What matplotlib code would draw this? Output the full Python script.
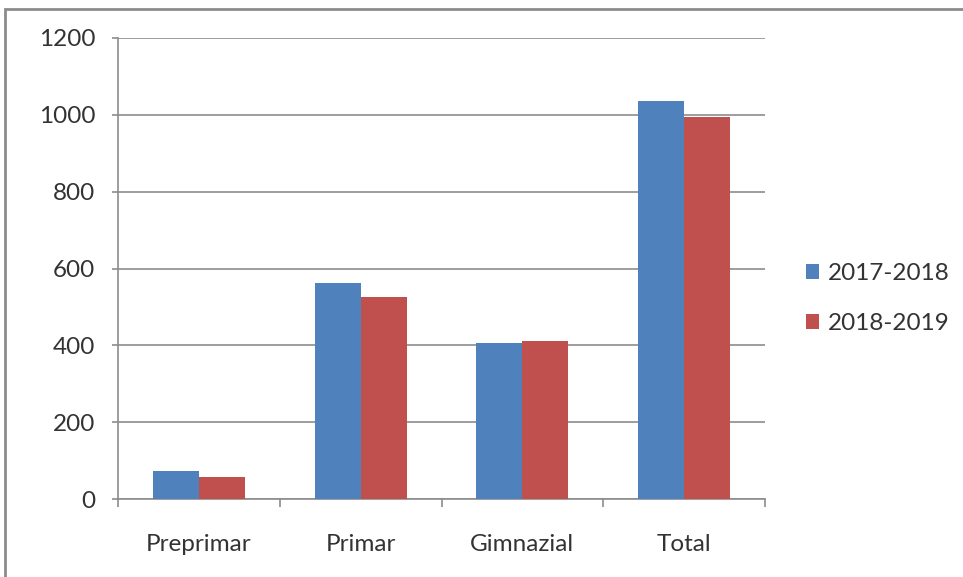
import matplotlib.pyplot as plt
import numpy as np
from matplotlib.patches import Rectangle

categories = ['Preprimar', 'Primar', 'Gimnazial', 'Total']
series_names = ['2017-2018', '2018-2019']
values_2017 = [72, 561, 405, 1037]
values_2018 = [58, 525, 411, 995]
colors = ['#4F81BD', '#C0504D']

plt.rcParams['font.family'] = ['Lato', 'DejaVu Sans']

fig = plt.figure(figsize=(9.63, 5.77), dpi=100)
ax = fig.add_axes([118 / 963, 1 - 499 / 577, (765 - 118) / 963, (499 - 38) / 577])

x = np.arange(len(categories))
w = 0.285
ax.bar(x - w / 2, values_2017, w, color=colors[0], label=series_names[0], zorder=3)
ax.bar(x + w / 2, values_2018, w, color=colors[1], label=series_names[1], zorder=3)

ax.set_xlim(-0.5, len(categories) - 0.5)
ax.set_ylim(0, 1200)
ax.set_yticks(range(0, 1201, 200))
ax.yaxis.grid(True, color='#8c8c8c', linewidth=1.2, zorder=0)

ax.set_xticks(x)
ax.set_xticklabels(categories)
ax.set_xticks(np.arange(-0.5, len(categories), 1), minor=True)
ax.tick_params(axis='x', which='major', length=0, pad=25, labelsize=17.5, labelcolor='#333333')
ax.tick_params(axis='x', which='minor', length=6, width=1.2, color='#8c8c8c', direction='out')
ax.tick_params(axis='y', length=4.5, width=1.2, color='#8c8c8c', pad=12, labelsize=17.5, labelcolor='#333333')

for s in ['top', 'right']:
    ax.spines[s].set_visible(False)
for s in ['left', 'bottom']:
    ax.spines[s].set_color('#8c8c8c')
    ax.spines[s].set_linewidth(1.2)

leg = ax.legend(loc='center left', bbox_to_anchor=(1.048, 0.435), frameon=False,
                fontsize=17.5, handlelength=0.55, handleheight=0.55, handletextpad=0.35,
                labelspacing=1.2, borderaxespad=0)
for t in leg.get_texts():
    t.set_color('#333333')

# outer chart frame (cropped on the right and bottom)
fig.patches.append(Rectangle((5 / 963, -0.1), 1.2, 1 - 9 / 577 + 0.1,
                             transform=fig.transFigure, fill=False,
                             edgecolor='#8c8c8c', linewidth=2))

fig.savefig('out.png', dpi=100)
